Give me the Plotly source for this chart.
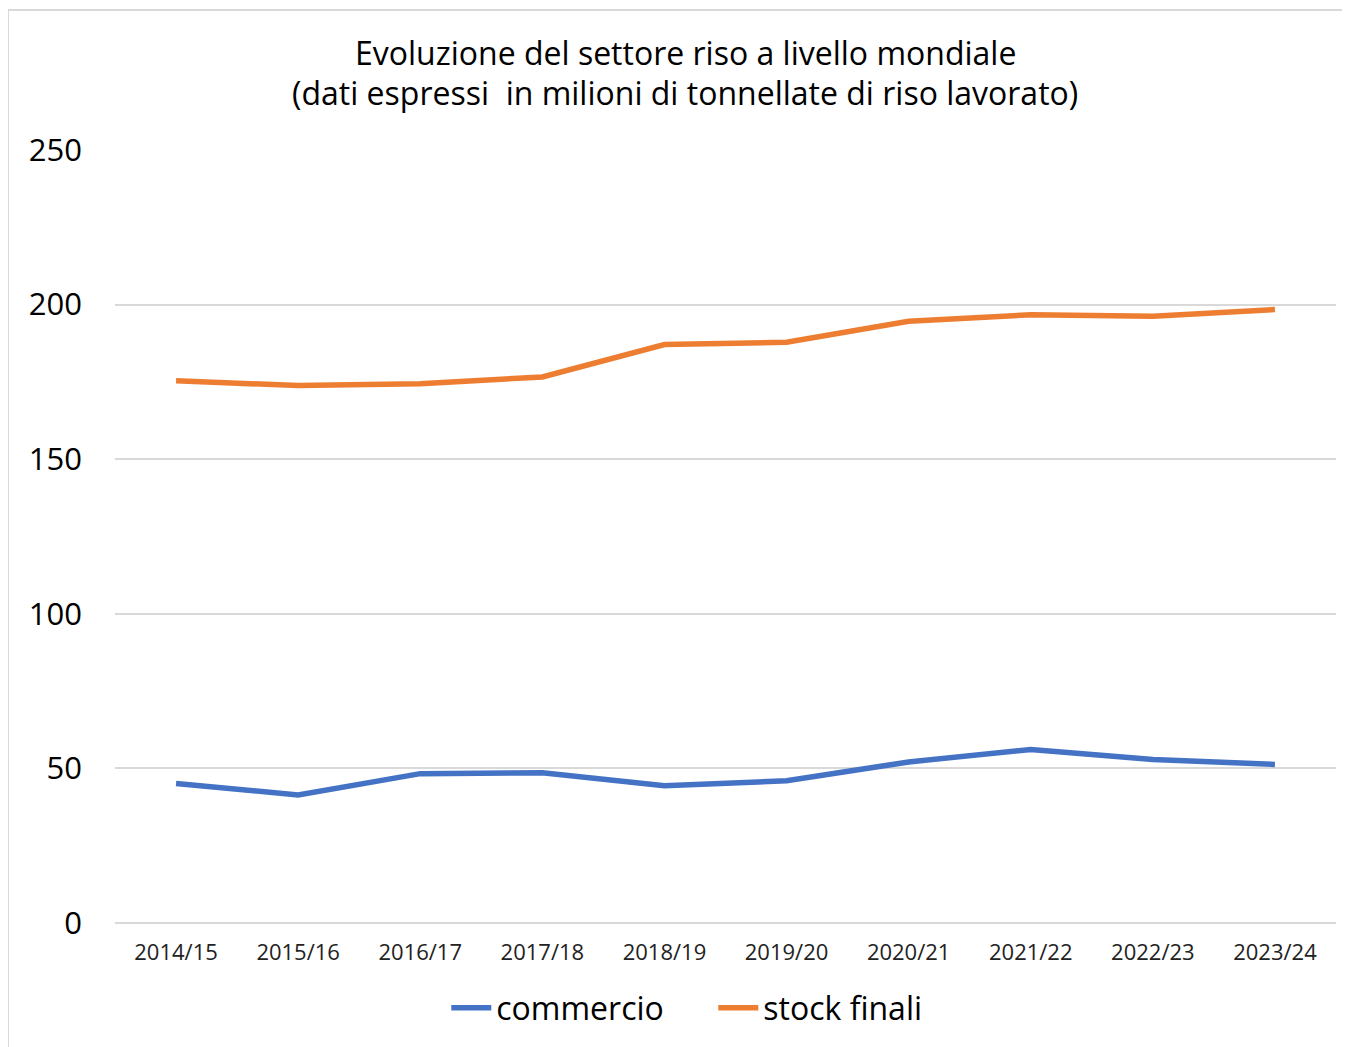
import plotly.graph_objects as go

categories = ["2014/15", "2015/16", "2016/17", "2017/18", "2018/19",
              "2019/20", "2020/21", "2021/22", "2022/23", "2023/24"]
commercio = [45.1, 41.4, 48.3, 48.6, 44.4, 46.0, 52.1, 56.1, 52.9, 51.3]
stock_finali = [175.4, 173.8, 174.4, 176.6, 187.1, 187.8, 194.6, 196.7, 196.2, 198.4]
y_ticks = [0, 50, 100, 150, 200, 250]

FONT = "Open Sans"

fig = go.Figure()
fig.add_trace(go.Scatter(x=categories, y=commercio, mode="lines", name="commercio",
                         line=dict(color="#4472C4", width=5.5)))
fig.add_trace(go.Scatter(x=categories, y=stock_finali, mode="lines", name="stock finali",
                         line=dict(color="#ED7D31", width=5.5)))

fig.update_layout(
    width=1350, height=1047,
    margin=dict(l=107, r=22, t=142, b=132),
    paper_bgcolor="white", plot_bgcolor="white",
    font=dict(family=FONT, color="#000000"),
    showlegend=True,
    legend=dict(orientation="h", x=0.49, y=-0.11, xanchor="center", yanchor="middle",
                font=dict(size=32, color="#000000"), itemwidth=40,
                entrywidth=212, traceorder="normal"),
    annotations=[
        dict(text="Evoluzione del settore riso a livello mondiale", xref="paper", yref="paper",
             x=0.467, y=(923 - 52) / 773, xanchor="center", yanchor="middle", showarrow=False,
             font=dict(size=32, color="#000000", family=FONT)),
        dict(text="(dati espressi  in milioni di tonnellate di riso lavorato)", xref="paper", yref="paper",
             x=0.467, y=(923 - 93) / 773, xanchor="center", yanchor="middle", showarrow=False,
             font=dict(size=32, color="#000000", family=FONT)),
    ],
    shapes=[
        dict(type="line", xref="paper", yref="paper", x0=-107/1221, x1=1.03, y0=(923-10)/773, y1=(923-10)/773,
             line=dict(color="#d9d9d9", width=2)),
        dict(type="line", xref="paper", yref="paper", x0=-107/1221, x1=-107/1221, y0=(923-10)/773, y1=-0.17,
             line=dict(color="#d9d9d9", width=2)),
    ],
)

fig.update_xaxes(
    type="category", range=[-0.5, 9.5], showgrid=False, showline=False, zeroline=False,
    ticks="", tickfont=dict(size=22, color="#222222"), ticklabelstandoff=14,
)
fig.update_yaxes(
    range=[0, 250], tickvals=y_ticks, showgrid=True, gridcolor="#d9d9d9", gridwidth=2,
    zeroline=True, zerolinecolor="#d9d9d9", zerolinewidth=2, showline=False, ticks="",
    tickfont=dict(size=31, color="#000000"), ticklabelstandoff=32,
)

fig.write_html("out.html")
